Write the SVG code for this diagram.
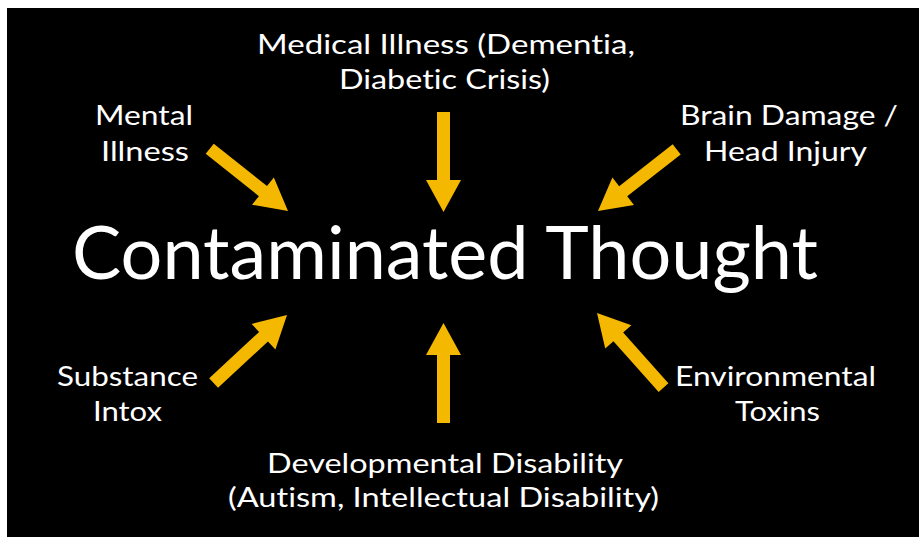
<svg xmlns="http://www.w3.org/2000/svg" xmlns:xlink="http://www.w3.org/1999/xlink" width="919" height="537" viewBox="0 0 919 537">
<style>
.lbl{font-family:Lato,"Open Sans","DejaVu Sans",sans-serif;font-size:27px;fill:#ffffff;text-anchor:middle;font-variant-ligatures:none}
.title{font-family:Lato,"Open Sans","DejaVu Sans",sans-serif;font-size:73px;fill:#ffffff;text-anchor:middle;font-variant-ligatures:none}
.arrow{fill:#F5B800}
</style>
<defs>
<polygon id="arr" class="arrow" points="-100,-6.5 -32,-6.5 -32,-17.5 0,0 -32,17.5 -32,6.5 -100,6.5"/>
</defs>
<rect x="0" y="0" width="919" height="537" fill="#ffffff"/>
<rect x="7" y="8" width="912" height="529" fill="#000000"/>
<g id="connectors">
<use xlink:href="#arr" transform="translate(443.5,212) rotate(90)"/>
<use xlink:href="#arr" transform="translate(443.5,323) rotate(-90)"/>
<use xlink:href="#arr" transform="translate(288,211) rotate(38.5)"/>
<use xlink:href="#arr" transform="translate(598,211) rotate(141.9)"/>
<use xlink:href="#arr" transform="translate(287,315) rotate(-42.8)"/>
<use xlink:href="#arr" transform="translate(597,313) rotate(-131.7)"/>
</g>
<g id="center">
<text class="title" x="445" y="279" textLength="746" lengthAdjust="spacingAndGlyphs">Contaminated Thought</text>
</g>
<g id="medical">
<text class="lbl" x="446" y="54" textLength="378" lengthAdjust="spacingAndGlyphs">Medical Illness (Dementia,</text>
<text class="lbl" x="444.5" y="89" textLength="211" lengthAdjust="spacingAndGlyphs">Diabetic Crisis)</text>
</g>
<g id="mental">
<text class="lbl" x="144" y="125" textLength="98" lengthAdjust="spacingAndGlyphs">Mental</text>
<text class="lbl" x="145" y="161" textLength="88" lengthAdjust="spacingAndGlyphs">Illness</text>
</g>
<g id="brain">
<text class="lbl" x="789" y="125" textLength="218" lengthAdjust="spacingAndGlyphs">Brain Damage /</text>
<text class="lbl" x="785.5" y="161" textLength="163" lengthAdjust="spacingAndGlyphs">Head Injury</text>
</g>
<g id="substance">
<text class="lbl" x="127.5" y="386" textLength="141" lengthAdjust="spacingAndGlyphs">Substance</text>
<text class="lbl" x="127.5" y="421" textLength="69" lengthAdjust="spacingAndGlyphs">Intox</text>
</g>
<g id="environmental">
<text class="lbl" x="775.5" y="386" textLength="201" lengthAdjust="spacingAndGlyphs">Environmental</text>
<text class="lbl" x="777.5" y="421" textLength="85" lengthAdjust="spacingAndGlyphs">Toxins</text>
</g>
<g id="developmental">
<text class="lbl" x="445" y="473" textLength="356" lengthAdjust="spacingAndGlyphs">Developmental Disability</text>
<text class="lbl" x="443.5" y="507" textLength="431" lengthAdjust="spacingAndGlyphs">(Autism, Intellectual Disability)</text>
</g>
</svg>
